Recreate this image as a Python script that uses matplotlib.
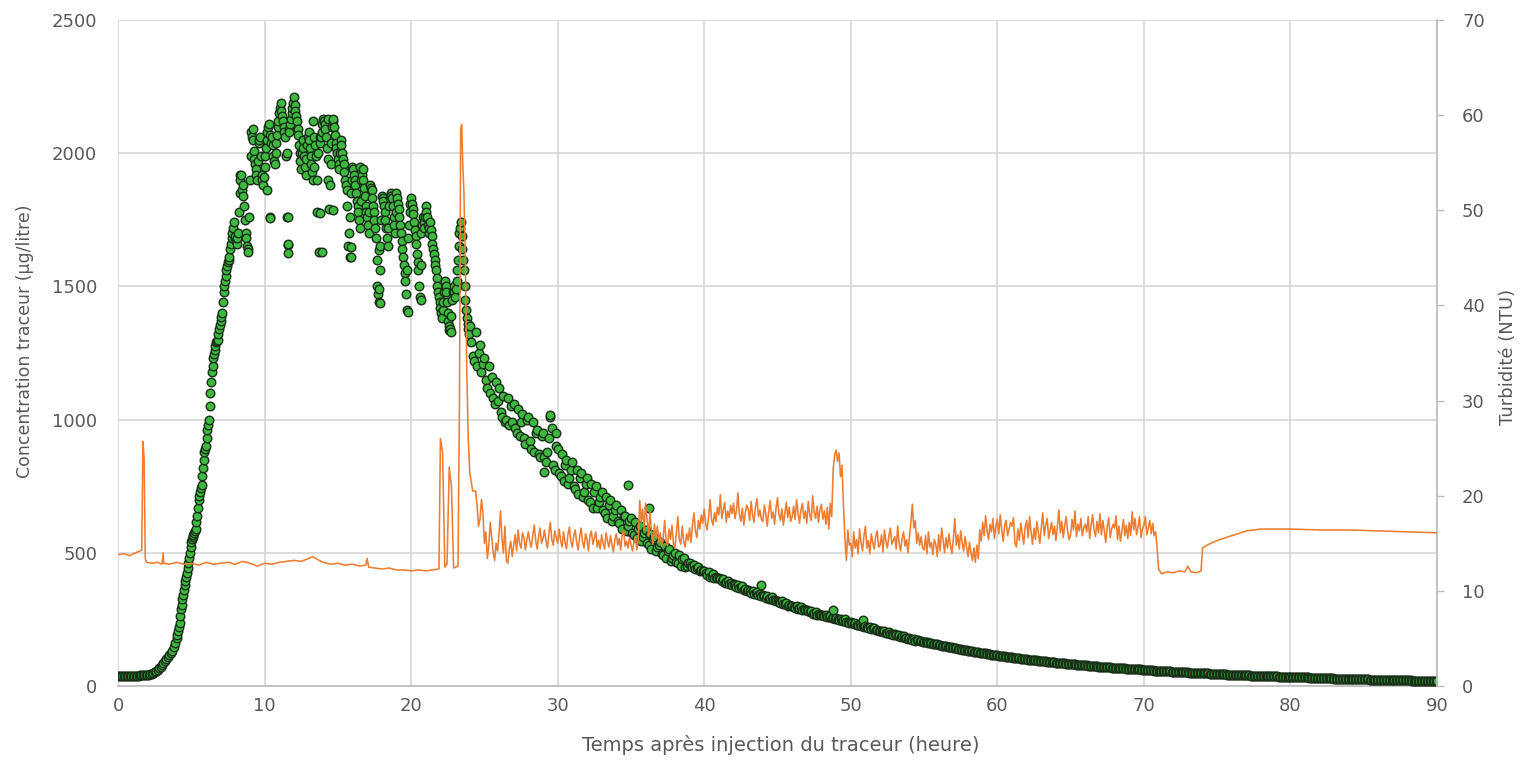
import numpy as np
import matplotlib.pyplot as plt

plt.rcParams['font.family'] = ['DejaVu Sans']

# Tracer concentration (µg/litre), one reading every 0.1 h from 0 h to 23.9 h
conc_first = [
    38, 38, 39, 38, 38, 39, 38, 38, 38, 39,
    38, 38, 39, 39, 39, 40, 40, 40, 41, 41,
    42, 43, 44, 46, 48, 51, 55, 60, 66, 72,
    78, 85, 92, 100, 108, 116, 122, 130, 145, 162,
    180, 205, 235, 290, 325, 360, 395, 425, 460, 500,
    540, 560, 575, 590, 640, 700, 730, 755, 820, 880,
    900, 960, 1000, 1100, 1180, 1230, 1260, 1290, 1300, 1340,
    1370, 1400, 1480, 1520, 1560, 1590, 1610, 1660, 1700, 1740,
    1690, 1660, 1700, 1850, 1920, 1880, 1800, 1700, 1650, 1630,
    1900, 2080, 2050, 1980, 1940, 1900, 2040, 2060, 1920, 1880,
    1950, 2020, 2080, 2110, 1760, 2060, 1990, 1960, 2040, 2100,
    2150, 2190, 2140, 2100, 2060, 1760, 1660, 2080, 2130, 2170,
    2210, 2160, 2120, 2070, 2000, 1940, 2050, 1990, 1920, 2030,
    2080, 2020, 1960, 1900, 2060, 1990, 1780, 1630, 2040, 2080,
    2130, 2110, 2060, 1980, 1790, 1960, 2100, 2130, 2070, 2020,
    1980, 1940, 2050, 2000, 1960, 1900, 1860, 1650, 1610, 1850,
    1950, 1920, 1880, 1820, 1780, 1720, 1900, 1940, 1870, 1800,
    1760, 1700, 1880, 1860, 1800, 1750, 1680, 1500, 1440, 1650,
    1840, 1820, 1780, 1720, 1650, 1800, 1850, 1830, 1760, 1700,
    1850, 1810, 1760, 1700, 1640, 1580, 1520, 1410, 1680, 1780,
    1830, 1790, 1740, 1690, 1620, 1560, 1460, 1700, 1760, 1720,
    1800, 1760, 1700, 1740, 1690, 1640, 1600, 1560, 1500, 1460,
    1420, 1380, 1440, 1520, 1480, 1400, 1350, 1330, 1450, 1500,
    1460, 1520, 1600, 1700, 1740, 1640, 1560, 1450, 1380, 1340,
]

# readings between the above, every 0.1 h from 4.05 h to 23.95 h
conc_between = [
    192, 220, 262, 305, 340, 378, 410, 442, 480, 520,
    550, 568, 582, 615, 670, 715, 742, 790, 850, 890,
    930, 980, 1050, 1140, 1200, 1245, 1275, 1295, 1320, 1355,
    1385, 1440, 1500, 1540, 1575, 1600, 1640, 1680, 1720, 1680,
    1670, 1680, 1780, 1900, 1860, 1840, 1750, 1680, 1640, 1760,
    1990, 2060, 2010, 1960, 1920, 1970, 2050, 1990, 1900, 1910,
    1990, 2050, 2100, 2070, 2040, 2030, 1970, 2000, 2070, 2120,
    2170, 2160, 2120, 2080, 1990, 2000, 2090, 2110, 2150, 2190,
    2180, 2140, 2090, 2030, 1970, 2000, 2020, 1950, 1980, 2060,
    2050, 1990, 1930, 1950, 2030, 1900, 2000, 2060, 2060, 2110,
    2120, 2090, 2020, 1900, 1880, 2040, 2120, 2100, 2040, 2000,
    1960, 2000, 2030, 1980, 1930, 1880, 1800, 1700, 1760, 1900,
    1940, 1900, 1850, 1800, 1750, 1820, 1920, 1900, 1840, 1780,
    1730, 1780, 1870, 1830, 1780, 1720, 1600, 1470, 1560, 1750,
    1830, 1800, 1750, 1680, 1720, 1830, 1840, 1800, 1730, 1780,
    1830, 1790, 1730, 1670, 1610, 1550, 1470, 1560, 1730, 1810,
    1810, 1770, 1710, 1660, 1590, 1500, 1580, 1730, 1740, 1760,
    1780, 1730, 1720, 1710, 1660, 1620, 1580, 1530, 1480, 1440,
    1400, 1410, 1480, 1500, 1440, 1370, 1340, 1390, 1480, 1480,
    1490, 1560, 1650, 1720, 1690, 1600, 1500, 1410, 1360, 1320,
]

# one reading every 0.1 h from 24 h to 54.9 h
conc_decay = [
    1350, 1290, 1240, 1220, 1330, 1200, 1250, 1280, 1180, 1210,
    1230, 1150, 1120, 1200, 1100, 1160, 1080, 1060, 1140, 1070,
    1120, 1030, 1010, 1090, 990, 1000, 1080, 980, 1050, 990,
    1060, 970, 950, 1040, 940, 990, 1020, 930, 910, 1000,
    1010, 920, 890, 990, 880, 950, 960, 870, 860, 940,
    950, 860, 840, 880, 930, 1010, 970, 830, 810, 900,
    890, 800, 790, 870, 770, 830, 850, 760, 780, 810,
    840, 750, 740, 810, 720, 780, 800, 710, 730, 760,
    780, 700, 690, 760, 670, 730, 750, 670, 690, 710,
    730, 660, 650, 710, 630, 680, 700, 620, 640, 660,
    680, 620, 610, 660, 590, 640, 640, 580, 600, 620,
    630, 575, 565, 615, 555, 590, 600, 545, 560, 575,
    585, 535, 530, 570, 515, 550, 560, 505, 520, 530,
    540, 495, 490, 525, 480, 505, 515, 470, 480, 490,
    500, 465, 460, 490, 450, 475, 482, 445, 452, 462,
    462, 452, 445, 455, 438, 442, 448, 432, 436, 430,
    432, 425, 418, 428, 410, 414, 420, 406, 410, 404,
    406, 400, 394, 402, 388, 392, 396, 384, 386, 380,
    384, 378, 372, 380, 366, 370, 374, 362, 364, 358,
    362, 356, 350, 358, 346, 348, 352, 342, 344, 338,
    342, 337, 332, 338, 326, 329, 334, 322, 324, 318,
    320, 316, 312, 318, 306, 308, 312, 302, 304, 300,
    302, 298, 294, 300, 290, 292, 296, 286, 288, 284,
    284, 281, 278, 282, 272, 275, 278, 268, 270, 266,
    268, 265, 262, 266, 258, 260, 262, 254, 256, 252,
    254, 250, 246, 252, 244, 246, 250, 240, 242, 238,
    240, 236, 232, 238, 228, 230, 232, 224, 226, 222,
    224, 221, 218, 222, 214, 216, 218, 210, 212, 208,
    208, 205, 202, 206, 198, 200, 202, 195, 196, 192,
    194, 191, 188, 192, 184, 186, 188, 181, 182, 178,
    180, 177, 174, 178, 170, 172, 174, 168, 169, 167,
]

# one reading every 0.1 h from 55 h to 90 h
conc_tail = [
    166, 165, 164, 163, 161, 160, 159, 158, 157, 156,
    154, 153, 152, 151, 150, 149, 148, 147, 146, 145,
    143, 142, 141, 140, 139, 138, 137, 136, 135, 134,
    133, 132, 131, 130, 129, 128, 127, 126, 125, 125,
    124, 123, 122, 121, 120, 119, 118, 117, 117, 116,
    115, 114, 113, 113, 112, 111, 110, 109, 109, 108,
    107, 106, 106, 105, 104, 104, 103, 102, 102, 101,
    100, 99, 99, 98, 97, 97, 96, 96, 95, 94,
    94, 93, 93, 92, 91, 91, 90, 90, 89, 89,
    88, 87, 87, 86, 86, 85, 85, 84, 84, 83,
    82, 82, 81, 81, 80, 80, 79, 79, 78, 78,
    77, 77, 76, 76, 75, 75, 75, 74, 74, 73,
    73, 72, 72, 71, 71, 71, 70, 70, 69, 69,
    69, 68, 68, 67, 67, 67, 66, 66, 65, 65,
    65, 64, 64, 63, 63, 63, 62, 62, 62, 61,
    61, 60, 60, 60, 59, 59, 59, 58, 58, 58,
    57, 57, 57, 56, 56, 56, 55, 55, 55, 54,
    54, 54, 53, 53, 53, 52, 52, 52, 51, 51,
    51, 50, 50, 50, 50, 49, 49, 49, 48, 48,
    48, 48, 47, 47, 47, 46, 46, 46, 46, 45,
    45, 45, 45, 44, 44, 44, 44, 43, 43, 43,
    43, 42, 42, 42, 42, 41, 41, 41, 41, 40,
    40, 40, 40, 39, 39, 39, 39, 39, 38, 38,
    38, 38, 37, 37, 37, 37, 37, 36, 36, 36,
    36, 36, 35, 35, 35, 35, 35, 34, 34, 34,
    34, 34, 33, 33, 33, 33, 33, 32, 32, 32,
    32, 32, 32, 31, 31, 31, 31, 31, 30, 30,
    30, 30, 30, 30, 29, 29, 29, 29, 29, 29,
    28, 28, 28, 28, 28, 27, 27, 27, 27, 27,
    27, 26, 26, 26, 26, 26, 26, 25, 25, 25,
    25, 25, 25, 25, 24, 24, 24, 24, 24, 24,
    24, 23, 23, 23, 23, 23, 23, 23, 22, 22,
    22, 22, 22, 22, 22, 21, 21, 21, 21, 21,
    21, 21, 21, 20, 20, 20, 20, 20, 20, 20,
    20, 19, 19, 19, 19, 19, 19, 19, 19, 19,
    19,
]

# isolated readings off the main trend
extra_time = [8.3, 9.2, 10.2, 10.4, 11.6, 11.6, 11.6, 12.6, 13.3, 13.8,
              13.9, 14.3, 14.7, 15.9, 15.9, 16.5, 17.8, 17.8, 17.9, 19.8,
              20.7, 22.6, 29.1, 29.5, 29.9, 34.8, 36.2, 43.9, 48.8, 50.8]
extra_conc = [1920, 2090, 1860, 1757, 1761, 1655, 1625, 2050, 2120, 1776,
              1629, 2130, 1787, 1648, 1610, 1950, 1637, 1490, 1438, 1404,
              1449, 1337, 803, 1017, 950, 755, 668, 379, 285, 248]

# Turbidity (NTU)
turb_time_start = [0.0, 0.4, 0.8, 1.2, 1.5, 1.62, 1.7, 1.78, 1.86, 1.95,
                   2.3, 2.7, 3.0, 3.08, 3.12, 3.5, 4.0, 4.5, 5.0, 5.5,
                   6.0, 6.5, 7.0, 7.5, 8.0, 8.5, 9.0, 9.5, 10.0, 10.5,
                   11.0, 11.5, 12.0, 12.5, 13.0, 13.3, 13.6, 14.0, 14.5, 15.0,
                   15.5, 16.0, 16.5, 16.9, 17.0, 17.1, 17.5, 18.0, 18.5, 19.0,
                   19.5, 20.0, 20.5, 21.0, 21.5, 21.9, 22.0, 22.15, 22.3, 22.45,
                   22.6, 22.75, 22.9, 23.2, 23.3, 23.38, 23.45, 23.52, 23.6, 23.7,
                   23.8, 23.9, 24.0, 24.2]
turb_start = [13.8, 13.9, 13.7, 14.0, 14.2, 14.3, 25.7, 24.0, 13.4, 13.0,
              12.9, 13.0, 12.8, 14.0, 12.9, 12.8, 13.0, 12.8, 12.9, 12.7,
              13.0, 12.8, 12.9, 13.0, 12.8, 13.1, 12.9, 12.6, 12.9, 12.8,
              13.0, 13.1, 13.2, 13.1, 13.4, 13.6, 13.3, 13.0, 12.8, 12.9,
              12.7, 12.8, 12.6, 12.7, 13.4, 12.5, 12.4, 12.3, 12.4, 12.2,
              12.2, 12.1, 12.2, 12.1, 12.2, 12.3, 26.0, 24.5, 12.5, 12.8,
              23.0, 21.0, 12.4, 12.6, 30.0, 58.5, 59.0, 55.0, 52.0, 45.0,
              33.0, 26.0, 22.5, 20.5]

# one reading every 0.1 h from 24.4 h to 70.9 h
turb_mid = [
    20.5, 19.0, 16.8, 17.5, 19.6, 18.2,
    15.0, 16.2, 13.4, 14.8, 17.2, 15.6, 14.1, 13.2, 15.0, 14.2,
    16.0, 18.4, 15.5, 14.0, 16.8, 13.2, 12.9, 14.4, 15.2, 13.6,
    14.8, 15.9, 14.2, 16.4, 15.0, 14.5, 16.1, 15.6, 14.3, 15.4,
    16.2, 15.1, 14.6, 15.8, 16.9, 15.3, 14.4, 15.7, 16.6, 15.0,
    15.5, 16.4, 15.2, 14.5, 16.0, 17.2, 15.4, 14.8, 16.3, 15.6,
    15.0, 16.5, 15.3, 14.6, 16.2, 15.1, 14.4, 15.9, 16.7, 15.2,
    14.6, 15.8, 16.4, 15.0, 14.3, 15.7, 16.6, 15.1, 14.5, 16.0,
    15.4, 14.2, 15.8, 16.3, 14.9, 15.5, 16.2, 14.6, 15.3, 14.4,
    15.9, 15.0, 14.4, 16.1, 15.2, 14.6, 15.8, 14.9, 14.1, 15.3,
    16.0, 14.8, 15.5, 14.3, 15.9, 16.4, 14.7, 15.2, 14.5, 15.6,
    14.9, 14.2, 15.1, 15.7, 14.3, 15.4, 19.5, 17.2, 18.6, 16.4,
    19.2, 17.5, 15.8, 18.3, 16.2, 14.9, 17.0, 15.6, 16.8, 15.2,
    16.1, 14.7, 15.6, 17.4, 15.3, 14.8, 16.5, 15.4, 16.9, 15.0,
    14.5, 16.2, 17.8, 15.4, 14.9, 16.8, 15.2, 14.6, 16.0, 15.3,
    16.6, 15.1, 17.0, 18.2, 16.3, 15.6, 17.4, 16.5, 18.0, 17.1,
    18.6, 17.0, 16.4, 17.8, 19.6, 17.5, 16.9, 18.2, 17.3, 18.8,
    18.0, 20.1, 17.6, 18.5, 19.3, 17.2, 18.4, 17.7, 19.0, 18.1,
    19.2, 17.6, 18.4, 20.3, 18.0, 17.3, 18.7, 16.9, 18.2, 19.0,
    18.6, 17.4, 19.4, 18.0, 17.2, 18.9, 19.7, 17.8, 18.5, 17.5,
    17.3, 19.0, 18.1, 16.8, 18.4, 19.5, 17.6, 18.3, 17.0, 18.7,
    19.8, 18.0, 17.4, 18.6, 16.9, 18.2, 19.3, 17.7, 18.8, 17.3,
    17.8, 18.9, 17.5, 19.6, 18.2, 17.1, 18.5, 19.2, 17.6, 18.4,
    17.1, 19.4, 18.0, 17.4, 20.0, 18.3, 17.6, 18.9, 17.2, 18.6,
    19.1, 17.5, 18.4, 17.0, 18.8, 16.5, 19.2, 17.8, 22.8, 24.3,
    24.8, 23.6, 24.5, 22.0, 23.2, 19.0, 15.5, 13.2, 16.4, 14.8,
    15.0, 13.6, 16.2, 14.5, 15.4, 13.9, 16.5, 15.1, 14.2, 15.8,
    16.8, 14.5, 15.3, 13.9, 16.0, 15.1, 14.4, 15.7, 16.3, 14.6,
    14.8, 15.9, 14.1, 16.4, 15.2, 14.5, 15.8, 16.6, 14.9, 15.3,
    15.7, 14.4, 16.8, 15.0, 14.2, 15.5, 16.2, 14.7, 15.4, 14.0,
    15.6, 17.2, 19.1, 16.6, 17.4, 15.0, 16.1, 14.8, 15.7, 14.5,
    14.3, 15.8, 13.9, 16.2, 14.6, 15.1, 13.8, 15.4, 14.9, 13.6,
    15.9, 14.2, 16.6, 15.3, 14.0, 15.6, 14.5, 16.0, 14.8, 13.9,
    15.5, 17.6, 14.8, 15.9, 14.4, 16.3, 15.0, 14.2, 15.7, 14.6,
    13.6, 15.1, 14.0, 13.2, 14.5, 13.0, 14.8, 13.4, 16.4, 15.2,
    17.2, 15.8, 17.9, 16.3, 15.4, 17.0, 16.2, 17.6, 15.5, 16.8,
    17.5, 16.0, 18.0, 16.4, 15.2, 16.9, 17.4, 15.8, 16.5, 17.2,
    16.8, 17.7, 15.1, 14.6, 16.5, 15.3, 17.1, 16.0, 14.9, 16.7,
    17.4, 15.6, 17.8, 16.2, 14.9, 16.6, 15.4, 17.3, 16.1, 15.0,
    16.7, 18.2, 15.8, 16.9, 17.6, 15.5, 16.4, 17.2, 15.9, 16.8,
    15.3, 16.8, 18.5, 16.1, 17.3, 15.6, 16.9, 17.8, 16.2, 15.4,
    15.9, 17.5, 16.4, 18.4, 15.7, 17.0, 16.3, 17.6, 15.8, 16.6,
    17.0, 16.2, 17.8, 15.5, 16.9, 18.0, 16.4, 15.7, 17.3, 16.1,
    18.1, 15.9, 17.4, 16.3, 15.1, 16.8, 17.7, 15.6, 16.5, 17.0,
    16.6, 17.9, 15.4, 16.8, 15.2, 16.3, 17.5, 15.8, 16.9, 15.5,
    17.2, 15.8, 18.3, 16.4, 17.6, 15.9, 16.7, 17.8, 15.6, 16.5,
    16.9, 17.8, 15.9, 16.6, 17.4, 16.0, 17.1, 15.8, 16.2, 14.6,
]

turb_time_end = [71.0, 71.2, 71.6, 72.0, 72.4, 72.8, 73.0, 73.2, 73.6, 73.9,
                 74.0, 74.3, 75.0, 76.0, 77.0, 78.0, 80.0, 82.0, 84.0, 86.0,
                 88.0, 90.0]
turb_end = [12.3, 11.8, 12.0, 11.9, 12.1, 12.0, 12.6, 12.0, 11.9, 12.1,
            14.5, 14.8, 15.3, 15.8, 16.3, 16.5, 16.5, 16.4, 16.4, 16.3,
            16.2, 16.1]

# assemble the series
conc_time = np.concatenate([
    0.1 * np.arange(len(conc_first)),
    4.05 + 0.1 * np.arange(len(conc_between)),
    24.0 + 0.1 * np.arange(len(conc_decay)),
    55.0 + 0.1 * np.arange(len(conc_tail)),
    extra_time,
])
conc = np.concatenate([conc_first, conc_between, conc_decay, conc_tail,
                       extra_conc])
order = np.argsort(conc_time, kind='stable')
conc_time, conc = conc_time[order], conc[order]

turb_time = np.concatenate([turb_time_start,
                            24.4 + 0.1 * np.arange(len(turb_mid)),
                            turb_time_end])
turb = np.concatenate([turb_start, turb_mid, turb_end])

W, H = 1524, 767
fig = plt.figure(figsize=(W / 100, H / 100), dpi=100)
ax = fig.add_axes([118 / W, 1 - 686 / H, (1437 - 118) / W, (686 - 20) / H])

grid_col = '#d9d9d9'
text_col = '#595959'

ax.scatter(conc_time, conc, s=38, facecolor='#3fb83f', edgecolor='#172e17',
           linewidth=1.0, zorder=3)

ax.set_xlim(0, 90)
ax.set_ylim(0, 2500)
ax.set_xticks(np.arange(0, 91, 10))
ax.set_yticks(np.arange(0, 2501, 500))
ax.grid(True, color=grid_col, linewidth=1.3)
ax.set_axisbelow(True)
for side in ['top', 'right', 'left']:
    ax.spines[side].set_visible(False)
ax.spines['bottom'].set_color('#bfbfbf')
ax.spines['bottom'].set_linewidth(1.3)
ax.tick_params(axis='both', length=0, labelsize=13, colors=text_col)
ax.tick_params(axis='y', pad=15)
ax.tick_params(axis='x', pad=8)

ax2 = ax.twinx()
ax2.plot(turb_time, turb, color='#ED7D31', linewidth=1.15, zorder=4)
ax2.set_ylim(0, 70)
ax2.set_yticks(np.arange(0, 71, 10))
for side in ['top', 'left', 'bottom']:
    ax2.spines[side].set_visible(False)
ax2.spines['right'].set_color('#bfbfbf')
ax2.spines['right'].set_linewidth(1.3)
ax2.tick_params(axis='y', length=5, width=1, color='#bfbfbf',
                labelsize=13, labelcolor=text_col, pad=13)

fig.text(781 / W, 1 - 745 / H, 'Temps après injection du traceur (heure)',
         ha='center', va='center', fontsize=14, color=text_col)
fig.text(25 / W, 1 - 341 / H, 'Concentration traceur (µg/litre)',
         ha='center', va='center', rotation=90, fontsize=12.5, color=text_col)
fig.text(1508 / W, 1 - 357 / H, 'Turbidité (NTU)',
         ha='center', va='center', rotation=90, fontsize=13, color=text_col)

fig.savefig('out.png', dpi=100)
